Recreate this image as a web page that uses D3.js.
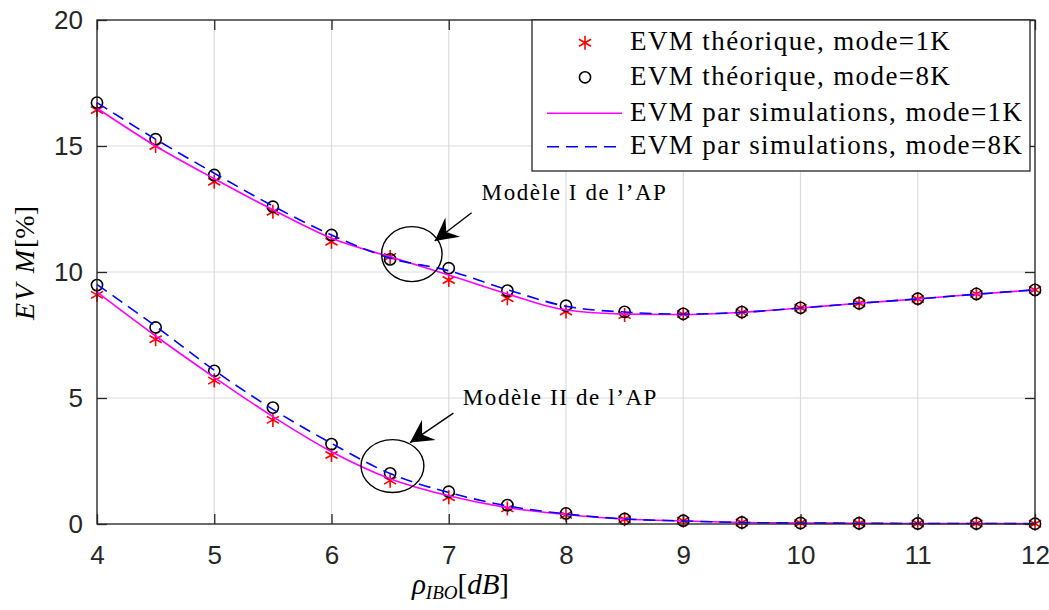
<!DOCTYPE html>
<html>
<head>
<meta charset="utf-8">
<script src="https://cdn.jsdelivr.net/npm/d3@7"></script>
<style>
  body { margin: 0; background: #fff; }
  svg { display: block; }
</style>
</head>
<body>
<div id="chart"></div>
<script>
// x values (rho_IBO, dB)
const ibo = [4, 4.5, 5, 5.5, 6, 6.5, 7, 7.5, 8, 8.5, 9, 9.5, 10, 10.5, 11, 11.5, 12];

// Modele I de l'AP
const theoI_1K = [16.43, 15.0, 13.58, 12.39, 11.2, 10.6, 9.68, 8.96, 8.43, 8.29, 8.33, 8.40, 8.58, 8.76, 8.93, 9.13, 9.29];
const theoI_8K = [16.72, 15.27, 13.85, 12.59, 11.47, 10.5, 10.15, 9.26, 8.66, 8.42, 8.34, 8.41, 8.58, 8.76, 8.94, 9.13, 9.29];
const simI_1K = [16.5, 15.0, 13.7, 12.47, 11.34, 10.6, 9.88, 9.13, 8.49, 8.33, 8.31, 8.40, 8.57, 8.76, 8.93, 9.12, 9.29];
const simI_8K = [16.72, 15.27, 13.92, 12.62, 11.47, 10.55, 10.05, 9.3, 8.64, 8.41, 8.33, 8.40, 8.57, 8.76, 8.93, 9.12, 9.29];

// Modele II de l'AP
const theoII_1K = [9.09, 7.33, 5.69, 4.13, 2.74, 1.72, 1.06, 0.62, 0.36, 0.19, 0.13, 0.06, 0.04, 0.03, 0.02, 0.02, 0.01];
const theoII_8K = [9.48, 7.8, 6.08, 4.62, 3.17, 2.01, 1.28, 0.75, 0.42, 0.2, 0.13, 0.06, 0.04, 0.03, 0.02, 0.02, 0.01];
const simII_1K = [9.2, 7.46, 5.82, 4.26, 2.87, 1.8, 1.12, 0.65, 0.38, 0.2, 0.12, 0.06, 0.04, 0.03, 0.02, 0.02, 0.01];
const simII_8K = [9.5, 7.85, 6.1, 4.55, 3.2, 2.0, 1.25, 0.72, 0.4, 0.2, 0.12, 0.06, 0.04, 0.03, 0.02, 0.02, 0.01];

const xTicks = [4, 5, 6, 7, 8, 9, 10, 11, 12];
const yTicks = [0, 5, 10, 15, 20];

const legendLabels = [
    'EVM théorique, mode=1K',
    'EVM théorique, mode=8K',
    'EVM par simulations, mode=1K',
    'EVM par simulations, mode=8K'
];

// annotations: ellipse centre/radii, arrow tail/head and text, all in data units
const notes = [
    { text: 'Modèle I de l’AP', cx: 6.685, cy: 10.71, rx: 0.258, ry: 1.09,
      from: [7.195, 12.35], to: [6.88, 11.23], tx: 7.28, ty: 12.85 },
    { text: 'Modèle II de l’AP', cx: 6.52, cy: 2.3, rx: 0.268, ry: 1.05,
      from: [7.04, 4.4], to: [6.67, 3.23], tx: 7.12, ty: 4.73 }
];

const W = 1049, H = 610;
const margin = { top: 20, right: 14, bottom: 86, left: 97 };
const width = W - margin.left - margin.right;
const height = H - margin.top - margin.bottom;
const axisCol = '#262626';

const root = d3.select('#chart')
    .append('svg')
    .attr('width', W)
    .attr('height', H);

const svg = root.append('g')
    .attr('transform', `translate(${margin.left},${margin.top})`);

const xScale = d3.scaleLinear().domain([4, 12]).range([0, width]);
const yScale = d3.scaleLinear().domain([0, 20]).range([height, 0]);

// grid
svg.append('g')
    .selectAll('line')
    .data(xTicks)
    .enter()
    .append('line')
    .attr('x1', d => xScale(d)).attr('x2', d => xScale(d))
    .attr('y1', 0).attr('y2', height)
    .attr('stroke', '#dcdcdc').attr('stroke-width', 1.2);
svg.append('g')
    .selectAll('line')
    .data(yTicks)
    .enter()
    .append('line')
    .attr('y1', d => yScale(d)).attr('y2', d => yScale(d))
    .attr('x1', 0).attr('x2', width)
    .attr('stroke', '#dcdcdc').attr('stroke-width', 1.2);

// star marker (vertical + two diagonals)
const starPath = r => {
    const t = r / 2, u = t * Math.sqrt(3);
    return `M0,${r}L0,${-r}M${-u},${-t}L${u},${t}M${-u},${t}L${u},${-t}`;
};

const drawStars = vals => {
    svg.append('g')
        .selectAll('path')
        .data(vals)
        .enter()
        .append('path')
        .attr('transform', (d, i) => `translate(${xScale(ibo[i])},${yScale(d)})`)
        .attr('d', starPath(7))
        .attr('fill', 'none')
        .attr('stroke', '#ff0000')
        .attr('stroke-width', 1.6);
};
const drawCircles = vals => {
    svg.append('g')
        .selectAll('circle')
        .data(vals)
        .enter()
        .append('circle')
        .attr('cx', (d, i) => xScale(ibo[i]))
        .attr('cy', d => yScale(d))
        .attr('r', 5.6)
        .attr('fill', 'none')
        .attr('stroke', '#000')
        .attr('stroke-width', 1.6);
};

const line = d3.line()
    .x((d, i) => xScale(ibo[i]))
    .y(d => yScale(d))
    .curve(d3.curveMonotoneX);

const drawLine = (vals, color, dash) => {
    svg.append('path')
        .data([vals])
        .attr('d', line)
        .attr('fill', 'none')
        .attr('stroke', color)
        .attr('stroke-width', 1.6)
        .attr('stroke-dasharray', dash);
};

drawStars(theoI_1K);
drawStars(theoII_1K);
drawCircles(theoI_8K);
drawCircles(theoII_8K);
drawLine(simI_1K, '#ff00ff', null);
drawLine(simII_1K, '#ff00ff', null);
drawLine(simI_8K, '#0000ff', '12,7');
drawLine(simII_8K, '#0000ff', '12,7');

// annotations
svg.append('defs').append('marker')
    .attr('id', 'arrow')
    .attr('viewBox', '-14 -8 16 16')
    .attr('markerWidth', 26).attr('markerHeight', 26)
    .attr('markerUnits', 'userSpaceOnUse')
    .attr('orient', 'auto')
    .append('path')
    .attr('d', 'M0,0L-14,-7.5L-9,0L-14,7.5Z')
    .attr('fill', '#000');

notes.forEach(n => {
    svg.append('ellipse')
        .attr('cx', xScale(n.cx)).attr('cy', yScale(n.cy))
        .attr('rx', xScale(4 + n.rx) - xScale(4))
        .attr('ry', yScale(0) - yScale(n.ry))
        .attr('fill', 'none').attr('stroke', '#000').attr('stroke-width', 1.4);
    svg.append('line')
        .attr('x1', xScale(n.from[0])).attr('y1', yScale(n.from[1]))
        .attr('x2', xScale(n.to[0])).attr('y2', yScale(n.to[1]))
        .attr('stroke', '#000').attr('stroke-width', 1.4)
        .attr('marker-end', 'url(#arrow)');
    svg.append('text')
        .attr('x', xScale(n.tx)).attr('y', yScale(n.ty))
        .attr('font-family', 'Liberation Serif, serif')
        .attr('font-size', 23)
        .attr('letter-spacing', 1.6)
        .attr('fill', '#000')
        .text(n.text);
});

// axes box + ticks
svg.append('rect')
    .attr('width', width).attr('height', height)
    .attr('fill', 'none').attr('stroke', axisCol).attr('stroke-width', 1.3);

const tickLen = 10;
svg.append('g').attr('transform', `translate(0,${height})`)
    .call(d3.axisBottom(xScale).tickValues(xTicks).tickSizeInner(-tickLen).tickSizeOuter(0).tickPadding(22));
svg.append('g')
    .call(d3.axisTop(xScale).tickValues(xTicks).tickSizeInner(-tickLen).tickSizeOuter(0).tickFormat(''));
svg.append('g')
    .call(d3.axisLeft(yScale).tickValues(yTicks).tickSizeInner(-tickLen).tickSizeOuter(0).tickPadding(14));
svg.append('g').attr('transform', `translate(${width},0)`)
    .call(d3.axisRight(yScale).tickValues(yTicks).tickSizeInner(-tickLen).tickSizeOuter(0).tickFormat(''));

svg.selectAll('.domain').remove();
svg.selectAll('.tick line').attr('stroke', axisCol).attr('stroke-width', 1.3);
svg.selectAll('.tick text')
    .attr('fill', axisCol)
    .attr('font-family', 'Liberation Sans, Arial, sans-serif')
    .attr('font-size', 26);

// legend
const lg = svg.append('g').attr('transform', `translate(${435},0)`);
lg.append('rect')
    .attr('x', 0).attr('y', 0)
    .attr('width', 498).attr('height', 151)
    .attr('fill', '#fff').attr('stroke', axisCol).attr('stroke-width', 1.3);
const rowY = [22.7, 57.3, 93.3, 126.7];
lg.append('path')
    .attr('transform', `translate(53,${rowY[0]})`)
    .attr('d', starPath(7))
    .attr('stroke', '#ff0000').attr('stroke-width', 1.6).attr('fill', 'none');
lg.append('circle')
    .attr('cx', 53).attr('cy', rowY[1]).attr('r', 5.6)
    .attr('stroke', '#000').attr('stroke-width', 1.6).attr('fill', 'none');
lg.append('line')
    .attr('x1', 15).attr('x2', 90).attr('y1', rowY[2]).attr('y2', rowY[2])
    .attr('stroke', '#ff00ff').attr('stroke-width', 1.6);
lg.append('line')
    .attr('x1', 15).attr('x2', 90).attr('y1', rowY[3]).attr('y2', rowY[3])
    .attr('stroke', '#0000ff').attr('stroke-width', 1.6).attr('stroke-dasharray', '12,7');
lg.selectAll('text.lab')
    .data(legendLabels)
    .enter()
    .append('text')
    .attr('class', 'lab')
    .attr('x', 98)
    .attr('y', (d, i) => rowY[i] + 7.5)
    .attr('font-family', 'Liberation Serif, serif')
    .attr('font-size', 27)
    .attr('letter-spacing', 1.4)
    .attr('fill', '#000')
    .text(d => d);

// axis labels
const yl = root.append('text')
    .attr('transform', `translate(34,${margin.top + 243}) rotate(-90)`)
    .attr('text-anchor', 'middle')
    .attr('font-family', 'Liberation Serif, serif')
    .attr('font-size', 28)
    .attr('fill', '#000');
yl.append('tspan').attr('font-style', 'italic').attr('letter-spacing', 2).text('EV M');
yl.append('tspan').text('[%]');

const xl = root.append('text')
    .attr('x', margin.left + xScale(7.1))
    .attr('y', 594)
    .attr('text-anchor', 'middle')
    .attr('font-family', 'Liberation Serif, serif')
    .attr('font-size', 29)
    .attr('fill', '#000');
xl.append('tspan').attr('font-style', 'italic').text('ρ');
xl.append('tspan').attr('font-style', 'italic').attr('font-size', 19).attr('dy', 5).text('IBO');
xl.append('tspan').attr('dy', -5).text('[');
xl.append('tspan').attr('font-style', 'italic').text('dB');
xl.append('tspan').text(']');
</script>
</body>
</html>
